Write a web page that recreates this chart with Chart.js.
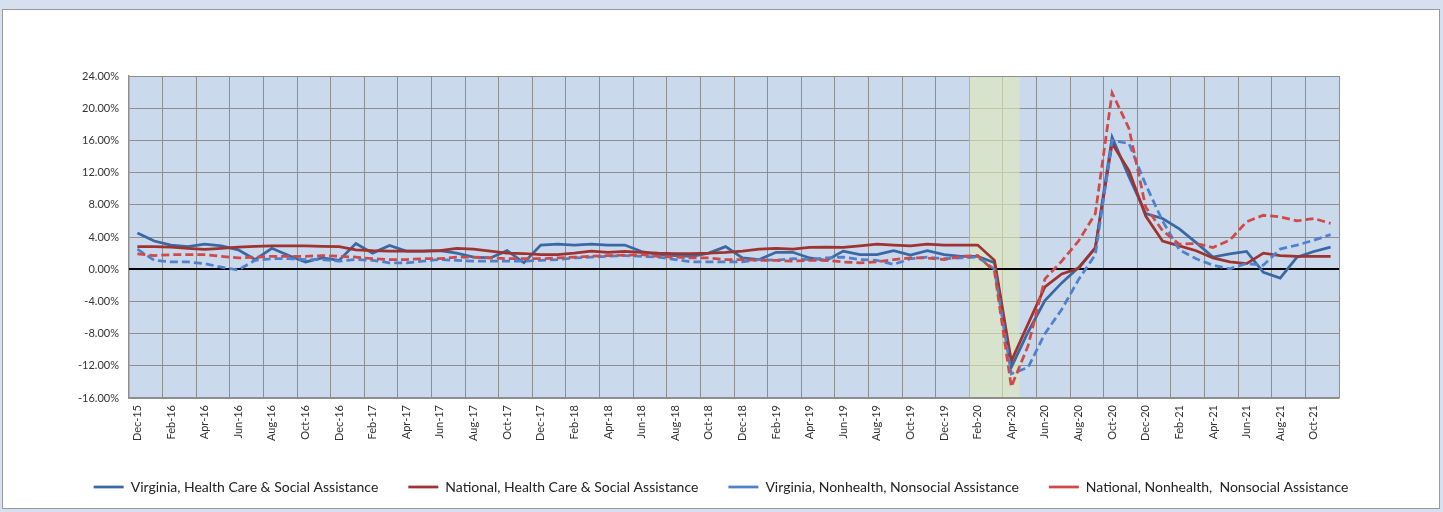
<!DOCTYPE html>
<html>
<head>
<meta charset="utf-8">
<script src="https://cdn.jsdelivr.net/npm/chart.js@4"></script>
<style>
  html, body { margin: 0; padding: 0; background: #d6e0ee; }
  #frame { position: absolute; left: 2px; top: 9px; width: 1436px; height: 498px; background: #fff; border: 1px solid #9a9a9a; }
  canvas { display: block; }
</style>
</head>
<body>
<div id="frame"><canvas id="chart" width="1436" height="498"></canvas></div>
<script>
const MESES = [
  'Dec-15',
  'Jan-16','Feb-16','Mar-16','Apr-16','May-16','Jun-16','Jul-16','Aug-16','Sep-16','Oct-16','Nov-16','Dec-16',
  'Jan-17','Feb-17','Mar-17','Apr-17','May-17','Jun-17','Jul-17','Aug-17','Sep-17','Oct-17','Nov-17','Dec-17',
  'Jan-18','Feb-18','Mar-18','Apr-18','May-18','Jun-18','Jul-18','Aug-18','Sep-18','Oct-18','Nov-18','Dec-18',
  'Jan-19','Feb-19','Mar-19','Apr-19','May-19','Jun-19','Jul-19','Aug-19','Sep-19','Oct-19','Nov-19','Dec-19',
  'Jan-20','Feb-20','Mar-20','Apr-20','May-20','Jun-20','Jul-20','Aug-20','Sep-20','Oct-20','Nov-20','Dec-20',
  'Jan-21','Feb-21','Mar-21','Apr-21','May-21','Jun-21','Jul-21','Aug-21','Sep-21','Oct-21','Nov-21'
];

// % cambio anual
const VA_SALUD = [
  4.5,
  3.5, 3.0, 2.8, 3.1, 2.9, 2.4, 1.2, 2.6, 1.7, 0.9, 1.4, 1.1,
  3.2, 2.0, 2.95, 2.25, 2.25, 2.3, 2.0, 1.5, 1.4, 2.3, 0.8, 3.0,
  3.1, 3.0, 3.1, 3.0, 3.0, 2.2, 1.8, 1.7, 1.6, 2.0, 2.8, 1.4,
  1.2, 2.1, 2.1, 1.4, 1.1, 2.25, 1.8, 1.8, 2.3, 1.75, 2.3, 1.8,
  1.6, 1.6, 0.8, -12.2, -7.8, -3.9, -1.7, 0.2, 2.6, 16.4, 11.5, 6.9,
  6.3, 5.0, 3.3, 1.5, 1.9, 2.2, -0.4, -1.1, 1.5, 2.2, 2.75
];
const NAC_SALUD = [
  2.8,
  2.8, 2.75, 2.6, 2.45, 2.6, 2.75, 2.85, 2.9, 2.9, 2.9, 2.85, 2.8,
  2.4, 2.3, 2.25, 2.25, 2.25, 2.3, 2.6, 2.5, 2.25, 2.0, 1.95, 1.8,
  1.8, 2.0, 2.25, 2.1, 2.2, 2.1, 2.0, 1.95, 1.95, 2.0, 2.1, 2.25,
  2.5, 2.6, 2.5, 2.7, 2.75, 2.7, 2.9, 3.1, 3.0, 2.9, 3.1, 3.0,
  3.0, 3.0, 1.1, -11.4, -6.8, -2.2, -0.6, 0.1, 2.67, 15.6, 12.25, 6.6,
  3.5, 2.9, 2.3, 1.4, 0.9, 0.7, 2.0, 1.7, 1.6, 1.6, 1.6
];
const VA_OTROS = [
  2.5,
  1.1, 0.9, 0.9, 0.7, 0.25, -0.1, 1.1, 1.3, 1.3, 1.2, 1.2, 1.0,
  1.2, 1.1, 0.8, 0.8, 1.0, 1.2, 1.1, 1.0, 1.0, 1.0, 1.0, 1.1,
  1.2, 1.4, 1.5, 1.6, 1.7, 1.6, 1.5, 1.2, 0.9, 0.9, 0.9, 0.9,
  1.2, 1.1, 1.3, 1.2, 1.4, 1.5, 1.2, 1.1, 0.6, 1.3, 1.5, 1.3,
  1.4, 1.5, 0.0, -13.0, -12.2, -8.0, -5.0, -1.3, 1.8, 16.0, 15.6, 10.5,
  6.0, 2.4, 1.3, 0.5, 0.05, 0.7, 0.5, 2.5, 3.0, 3.6, 4.3
];
const NAC_OTROS = [
  1.9,
  1.7, 1.8, 1.8, 1.8, 1.6, 1.4, 1.5, 1.6, 1.6, 1.6, 1.7, 1.6,
  1.5, 1.3, 1.2, 1.2, 1.3, 1.3, 1.5, 1.5, 1.4, 1.3, 1.3, 1.3,
  1.4, 1.5, 1.6, 1.7, 1.75, 1.8, 1.6, 1.5, 1.4, 1.4, 1.2, 1.2,
  1.1, 1.1, 1.0, 1.1, 1.1, 0.9, 0.8, 0.9, 1.2, 1.4, 1.4, 1.2,
  1.6, 1.7, -0.3, -14.6, -9.5, -1.2, 1.0, 3.5, 6.9, 21.9, 17.5, 7.7,
  4.8, 3.1, 3.2, 2.7, 3.6, 5.9, 6.7, 6.5, 6.0, 6.3, 5.7
];

const RECESION_INICIO = 'Feb-20';
const RECESION_FIN = 'Apr-20';

const Y_MIN = -16, Y_MAX = 24, Y_PASO = 4;

const COLOR_GRID = '#8e8e8e';
const FUENTE = 'Lato, "Liberation Sans", sans-serif';

const fondoPlugin = {
  id: 'fondo',
  beforeDraw(chart) {
    const { ctx, chartArea: a } = chart;
    ctx.save();
    ctx.fillStyle = '#cbd9ec';
    ctx.fillRect(a.left, a.top, a.right - a.left, a.bottom - a.top);
    ctx.restore();
  },
  beforeDatasetsDraw(chart) {
    const { ctx, chartArea: a, scales } = chart;
    const x = scales.x, y = scales.y;
    const ancho = x.getPixelForValue(1) - x.getPixelForValue(0);
    const x0 = x.getPixelForValue(MESES.indexOf(RECESION_INICIO)) - ancho / 2;
    const x1 = x.getPixelForValue(MESES.indexOf(RECESION_FIN)) + ancho / 2;
    ctx.save();
    ctx.fillStyle = 'rgba(222, 233, 184, 0.62)';
    ctx.fillRect(x0, a.top + 1, x1 - x0, a.bottom - a.top - 2);
    // linea del cero
    const y0 = Math.round(y.getPixelForValue(0));
    ctx.strokeStyle = '#000';
    ctx.lineWidth = 2;
    ctx.beginPath();
    ctx.moveTo(a.left, y0);
    ctx.lineTo(a.right, y0);
    ctx.stroke();
    ctx.restore();
  }
};

function serie(label, data, color, dash, orden) {
  return {
    label,
    data,
    borderColor: color,
    backgroundColor: color,
    borderWidth: 2.75,
    borderDash: dash,
    pointRadius: 0,
    pointHoverRadius: 0,
    tension: 0,
    order: orden,
  };
}

new Chart(document.getElementById('chart'), {
  type: 'line',
  data: {
    labels: MESES,
    datasets: [
      serie('Virginia, Health Care & Social Assistance', VA_SALUD, '#3a68a3', [], 4),
      serie('National, Health Care & Social Assistance', NAC_SALUD, '#9e3330', [], 3),
      serie('Virginia, Nonhealth, Nonsocial Assistance', VA_OTROS, '#4f82cc', [8, 4], 2),
      serie('National, Nonhealth,  Nonsocial Assistance', NAC_OTROS, '#cf4a48', [8, 4], 1),
    ],
  },
  plugins: [fondoPlugin],
  options: {
    responsive: false,
    animation: false,
    devicePixelRatio: 1,
    layout: { padding: { top: 66, left: 0, right: 0, bottom: 4 } },
    plugins: {
      tooltip: { enabled: false },
      legend: {
        position: 'bottom',
        labels: {
          usePointStyle: true,
          pointStyle: 'line',
          pointStyleWidth: 30,
          padding: 30,
          color: '#222',
          font: { family: FUENTE, size: 14 },
          sort: (a, b) => a.datasetIndex - b.datasetIndex,
        },
      },
    },
    scales: {
      x: {
        offset: true,
        grid: {
          offset: true,
          drawTicks: false,
          color: (c) => (c.index === undefined || c.index % 2 === 0) ? COLOR_GRID : 'rgba(0,0,0,0)',
          lineWidth: 1,
        },
        border: { color: COLOR_GRID, width: 1.5 },
        ticks: {
          autoSkip: false,
          maxRotation: 90,
          minRotation: 90,
          padding: 7,
          color: '#333',
          font: { family: FUENTE, size: 11 },
          callback: function (v, i) { return i % 2 === 0 ? this.getLabelForValue(v) : ''; },
        },
        afterFit: (s) => { s.height = 52; },
      },
      y: {
        min: Y_MIN,
        max: Y_MAX,
        grid: {
          drawTicks: false,
          color: (c) => c.tick && c.tick.value === 0 ? 'rgba(0,0,0,0)' : COLOR_GRID,
          lineWidth: 1,
        },
        border: { color: COLOR_GRID, width: 1.5 },
        ticks: {
          stepSize: Y_PASO,
          padding: 10,
          color: '#333',
          font: { family: FUENTE, size: 11 },
          callback: (v) => v.toFixed(2) + '%',
        },
        afterFit: (s) => { s.width = 126; },
      },
      derecha: {
        position: 'right',
        display: true,
        grid: { display: false },
        border: { display: false },
        ticks: { display: false },
        afterFit: (s) => { s.width = 100; },
      },
    },
  },
});
</script>
</body>
</html>
